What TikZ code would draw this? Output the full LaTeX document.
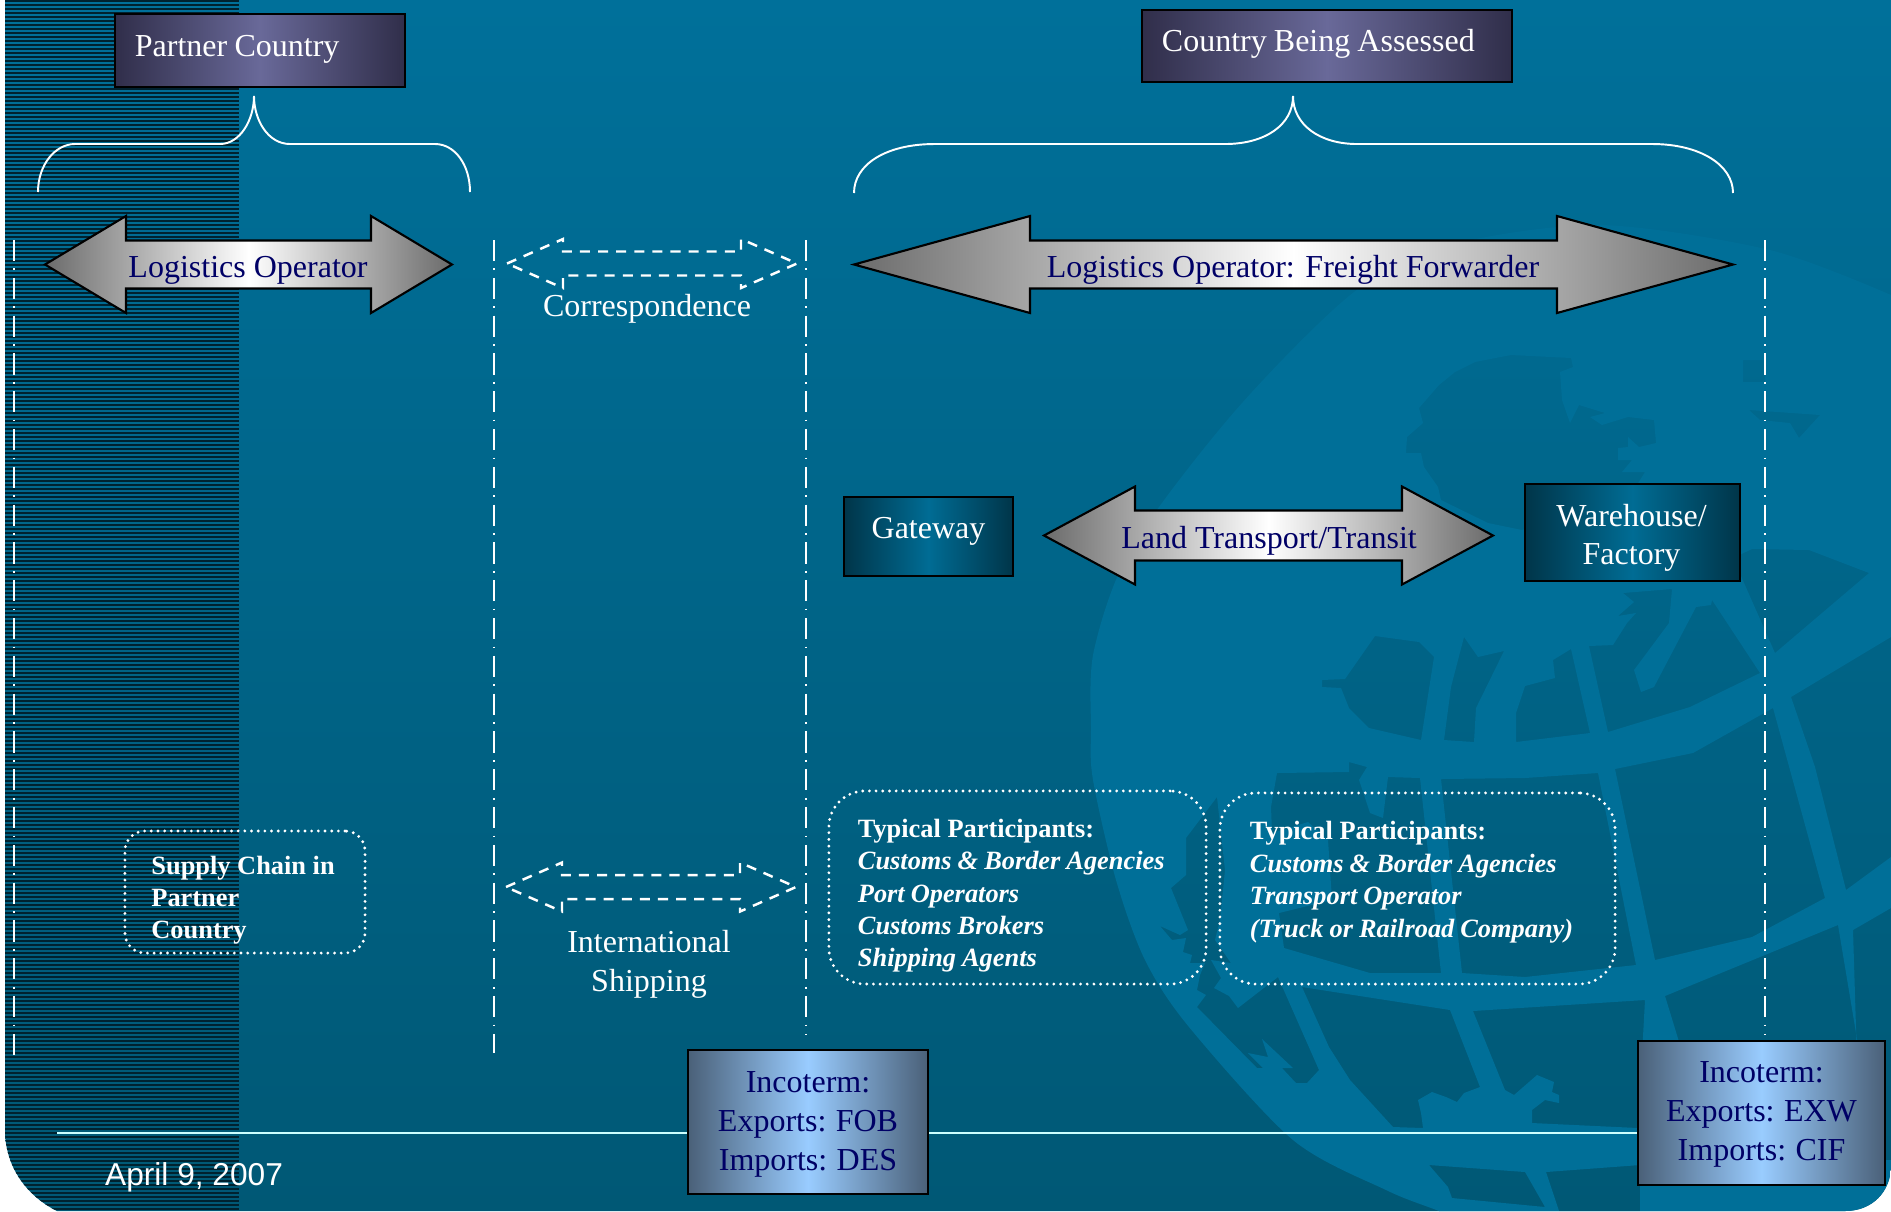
\documentclass[tikz,border=0pt]{standalone}
\usepackage{fontspec}
\usepackage{xcolor}
\setmainfont{Liberation Serif}
\newfontfamily\datefont{Liberation Sans}

\definecolor{seatop}{HTML}{00709A}
\definecolor{seabot}{HTML}{005875}
\definecolor{globeblue}{HTML}{006F98}
\definecolor{stripedark}{HTML}{00222F}
\definecolor{navytext}{HTML}{000066}
\definecolor{footline}{HTML}{CCFFFF}
\definecolor{plumdark}{HTML}{302E4A}
\definecolor{plumlight}{HTML}{696999}
\definecolor{teardark}{HTML}{003549}
\definecolor{tearlight}{HTML}{006C94}
\definecolor{steeldark}{HTML}{4A6078}
\definecolor{steellight}{HTML}{99CCFF}

\tikzset{
    plainlabel/.style={font=\fontsize{9.1}{11}\selectfont},
    headbox/.style={plainlabel,draw=black,line width=.6pt,text=white,left color=plumdark,right color=plumdark,middle color=plumlight,align=left,inner xsep=.2cm,inner ysep=0pt},
    placebox/.style={plainlabel,draw=black,line width=.6pt,text=white,left color=teardark,right color=teardark,middle color=tearlight,align=center,inner sep=0pt},
    incobox/.style={plainlabel,draw=black,line width=.7pt,text=navytext,left color=steeldark,right color=steeldark,middle color=steellight,align=center,inner sep=0pt},
    partbox/.style={font=\fontsize{7.5}{9.2}\selectfont\bfseries,draw=white,line width=.9pt,line cap=round,dash pattern=on 0pt off 1.9pt,text=white,inner ysep=0pt},
    solidarrow/.style={draw=black,line width=.6pt,left color=black!58,right color=black!58,middle color=white},
    dasharrow/.style={draw=white,line width=.7pt,dash pattern=on 2.85pt off 2.3pt},
    bracket/.style={draw=white,line width=.55pt},
    laneline/.style={draw=white,line width=.42pt,dash pattern=on 6pt off 2.1pt on .5pt off 2.15pt},
}

\newcommand{\twoway}[7]{\draw[#1] (#2,#4) -- ({#2+#5},{#4-#6}) -- ({#2+#5},{#4-#7}) -- ({#3-#5},{#4-#7}) -- ({#3-#5},{#4-#6}) -- (#3,#4) -- ({#3-#5},{#4+#6}) -- ({#3-#5},{#4+#7}) -- ({#2+#5},{#4+#7}) -- ({#2+#5},{#4+#6}) -- cycle;}
\newcommand{\nudged}[3]{\raisebox{#1}[0pt][0pt]{\parbox{#2}{#3}}}
\newcommand{\partitem}[1]{\textit{\spaceskip=.228em\relax #1}}

\begin{document}
\begin{tikzpicture}[x=0.01cm,y=-0.01cm]
        \useasboundingbox (0,0) rectangle (1891,1211);
        \fill[white] (0,0) rectangle (1891,1211);
        \begin{scope}
            \clip (5,0) -- (1891,0) -- (1891,1165) .. controls (1891,1192) and (1872,1211) .. (1845,1211) -- (57,1211) .. controls (25,1195) and (5,1165) .. (5,1130) -- cycle;
            \shade[top color=seatop,bottom color=seabot] (0,0) rectangle (1891,1211);
            \foreach \ly in {1,5,...,1211}
                \draw[stripedark,line width=.6pt] (0,\ly) -- (239,\ly);
            \fill[globeblue,even odd rule]
                plot[smooth] coordinates {(1891,295) (1770,250) (1600,225) (1450,245) (1354,292) (1235,411) (1132,547) (1094,650) (1091,730) (1093,780) (1116,880) (1145,960) (1189,1027) (1293,1140) (1386,1190) (1439,1211) (1500,1235)} -- (1891,1235) -- cycle
                (1475,362) -- (1511,355) -- (1571,358) -- (1573,367) -- (1560,372) -- (1562,400) -- (1570,423) -- (1579,405) -- (1605,413) -- (1590,417) -- (1602,425) -- (1628,417) -- (1654,420) -- (1656,443) -- (1639,447) -- (1628,437) -- (1628,447) -- (1618,448) -- (1618,460) -- (1632,460) -- (1622,472) -- (1645,472) -- (1632,493) -- (1522,530) -- (1488,523) -- (1441,500) -- (1438,487) -- (1424,467) -- (1421,453) -- (1406,453) -- (1407,437) -- (1423,423) -- (1419,408) -- (1439,385) -- (1455,372) -- cycle
                (1375,636) -- (1419,642) -- (1434,657) -- (1421,740) -- (1369,728) -- (1349,708) -- (1341,688) -- (1322,687) -- (1322,680) -- (1345,679) -- cycle
                (1464,637) -- (1478,657) -- (1504,651) -- (1476,708) -- (1474,742) -- (1444,740) -- (1451,687) -- cycle
                (1571,649) -- (1590,733) -- (1516,742) -- (1516,713) -- (1525,686) -- (1555,678) -- (1553,660) -- cycle
                (1712,600) -- (1760,673) -- (1690,707) -- (1608,732) -- (1589,646) -- (1613,645) -- (1627,623) -- (1636,613) -- (1618,616) -- (1634,602) -- (1623,593) -- (1672,589) -- (1669,623) -- (1634,670) -- (1641,692) -- (1654,687) -- (1696,607) -- (1711,605) -- cycle
                (1733,558) -- (1752,549) -- (1809,550) -- (1869,573) -- (1775,653) -- cycle
                (1791,697) -- (1891,637) -- (1891,857) -- (1846,890) -- (1815,767) -- cycle
                (1853,930) -- (1891,908) -- (1891,1160) -- (1860,1160) -- cycle
                (1277,773) -- (1349,772) -- (1349,762) -- (1367,767) -- (1359,780) -- (1370,813) -- (1383,818) -- (1388,777) -- (1420,778) -- (1441,973) -- (1370,973) -- (1284,948) -- (1279,913) -- (1332,900) -- (1328,840) -- (1308,822) -- (1272,833) -- (1271,807) -- cycle
                (1441,779) -- (1525,778) -- (1598,773) -- (1636,965) -- (1525,977) -- (1462,973) -- cycle
                (1615,769) -- (1693,753) -- (1773,708) -- (1825,898) -- (1752,937) -- (1655,960) -- cycle
                (1665,996) -- (1838,925) -- (1858,1045) -- (1680,1045) -- cycle
                (1217,797) -- (1186,838) -- (1186,875) -- (1171,888) -- (1188,930) -- (1180,935) -- (1160,926) -- (1172,940) -- (1186,938) -- (1183,952) -- (1192,955) -- (1190,963) -- (1205,963) -- (1200,975) -- (1197,990) -- (1206,995) -- (1197,1007) -- (1257,1068) -- (1263,1068) -- (1248,1053) -- (1268,1057) -- (1262,1039) -- (1293,1068) -- (1282,1068) -- (1296,1083) -- (1307,1083) -- (1319,1070) -- (1278,977) -- (1238,1008) -- (1229,996) -- (1214,988) -- (1221,978) -- (1211,960) -- (1231,963) -- (1215,940) -- (1220,920) -- (1225,870) -- cycle
                (1302,987) -- (1450,1010) -- (1480,1087) -- (1464,1093) -- (1457,1102) -- (1446,1097) -- (1432,1092) -- (1418,1100) -- (1421,1113) -- (1423,1128) -- (1393,1127) -- (1350,1080) -- (1329,1047) -- cycle
                (1473,1011) -- (1645,1000) -- (1638,1128) -- (1532,1123) -- (1532,1110) -- (1545,1100) -- (1559,1103) -- (1559,1095) -- (1552,1092) -- (1554,1082) -- (1537,1075) -- (1514,1095) -- (1505,1090) -- cycle
                (1429,1165) -- (1525,1172) -- (1545,1207) -- (1452,1198) -- (1448,1187) -- cycle
                (1546,1172) -- (1640,1165) -- (1640,1211) -- (1559,1211) -- cycle
                (1743,360) -- (1765,360) -- (1765,382) -- (1743,382) -- cycle
                (1749,410) -- (1820,415) -- (1799,438) -- (1790,423) -- (1760,420) -- cycle;
        \end{scope}

        \foreach \lname/\lx/\lend in {lanea/14/1055,laneb/494/1053,lanec/806/1034,laned/1765/1035} {
            \coordinate (\lname top) at (\lx,240);
            \coordinate (\lname bot) at (\lx,\lend);
            \draw[laneline] (\lname top) -- (\lname bot);
        }

        \node[incobox,minimum width=2.4cm,minimum height=1.44cm] (incofob) at (808,1122) {\nudged{-2.95pt}{2.3cm}{\centering\spaceskip=.21em\relax Incoterm:\\Exports: FOB\\Imports: DES}};
        \node[incobox,minimum width=2.47cm,minimum height=1.44cm] (incoexw) at (1761.5,1113) {\nudged{-2.65pt}{2.3cm}{\centering\spaceskip=.21em\relax Incoterm:\\Exports: EXW\\Imports: CIF}};
        \coordinate (footstart) at (57,1133);
        \draw[footline,line width=.6pt] (footstart) -- (footstart -| incofob.west);
        \draw[footline,line width=.6pt] (footstart -| incofob.east) -- (footstart -| incoexw.west);
        \node[anchor=base west,inner sep=0pt,text=white,font=\datefont\fontsize{9}{11}\selectfont] (datetext) at (104.5,1185) {April 9, 2007};

        \node[headbox,text width=2.5cm,minimum height=.73cm] (partner) at (260,50.5) {\raisebox{-1.6pt}[0pt][0pt]{\spaceskip=.225em\relax Partner Country}};
        \node[headbox,text width=3.3cm,minimum height=.72cm] (assessed) at (1327,46) {\raisebox{-1.5pt}[0pt][0pt]{\spaceskip=.222em\relax Country Being Assessed}};

        \draw[bracket] (38,192) .. controls (38,165) and (55,144) .. (75,144) -- (220,144) .. controls (240,144) and (254,120) .. (254,96) .. controls (254,120) and (268,144) .. (290,144) -- (435,144) .. controls (455,144) and (470,165) .. (470,192);
        \draw[bracket] (854,193) .. controls (854,165) and (885,144) .. (935,144) -- (1225,144) .. controls (1265,144) and (1293,125) .. (1293,96) .. controls (1293,125) and (1320,144) .. (1357,144) -- (1652,144) .. controls (1700,144) and (1733,165) .. (1733,193);

        \twoway{solidarrow}{45}{452}{264.5}{81}{48.5}{24}
        \node[plainlabel,text=navytext,inner sep=0pt] (logisticsa) at (248,270) {Logistics Operator};
        \twoway{solidarrow}{854}{1733}{264.5}{176}{48.5}{24}
        \node[plainlabel,text=navytext,inner sep=0pt] (logisticsb) at (1293,270) {Logistics Operator: Freight Forwarder};
        \twoway{solidarrow}{1044}{1493}{535.5}{91}{49}{25}
        \node[plainlabel,text=navytext,inner sep=0pt] (landtransit) at (1269,541) {Land Transport/Transit};

        \node[placebox,minimum width=1.69cm,minimum height=.79cm] (gateway) at (928.5,536.5) {\raisebox{-.7pt}[0pt][0pt]{Gateway}};
        \node[placebox,minimum width=2.15cm,minimum height=.97cm] (warehouse) at (1632.5,532.5) {\hspace*{-.02cm}\nudged{-3.75pt}{2.1cm}{\centering Warehouse/\\Factory}};

        \twoway{dasharrow}{507}{797}{263.5}{56}{24.5}{12}
        \node[plainlabel,text=white,inner sep=0pt] (correspond) at (647,309) {Correspondence};
        \twoway{dasharrow}{506}{796}{887}{56}{24.5}{12}
        \node[plainlabel,text=white,inner sep=0pt,align=center] (shipping) at (649,964) {International\\Shipping};

        \node[partbox,rounded corners=.2cm,minimum width=2.4cm,minimum height=1.22cm] (supply) at (245,892) {\hspace*{.03cm}\nudged{-4.1pt}{1.9cm}{Supply Chain in\\Partner\\Country}};
        \node[partbox,rounded corners=.36cm,minimum width=3.77cm,minimum height=1.93cm] (partsa) at (1017.5,887.5) {\nudged{-4.1pt}{3.19cm}{Typical Participants:\\\partitem{Customs \& Border Agencies}\\\partitem{Port Operators}\\\partitem{Customs Brokers}\\\partitem{Shipping Agents}}};
        \node[partbox,rounded corners=.36cm,minimum width=3.95cm,minimum height=1.91cm] (partsb) at (1417.5,888.5) {\nudged{.05pt}{3.35cm}{Typical Participants:\\\partitem{Customs \& Border Agencies}\\\partitem{Transport Operator}\\\partitem{(Truck or Railroad Company)}}};
    \end{tikzpicture}
\end{document}
